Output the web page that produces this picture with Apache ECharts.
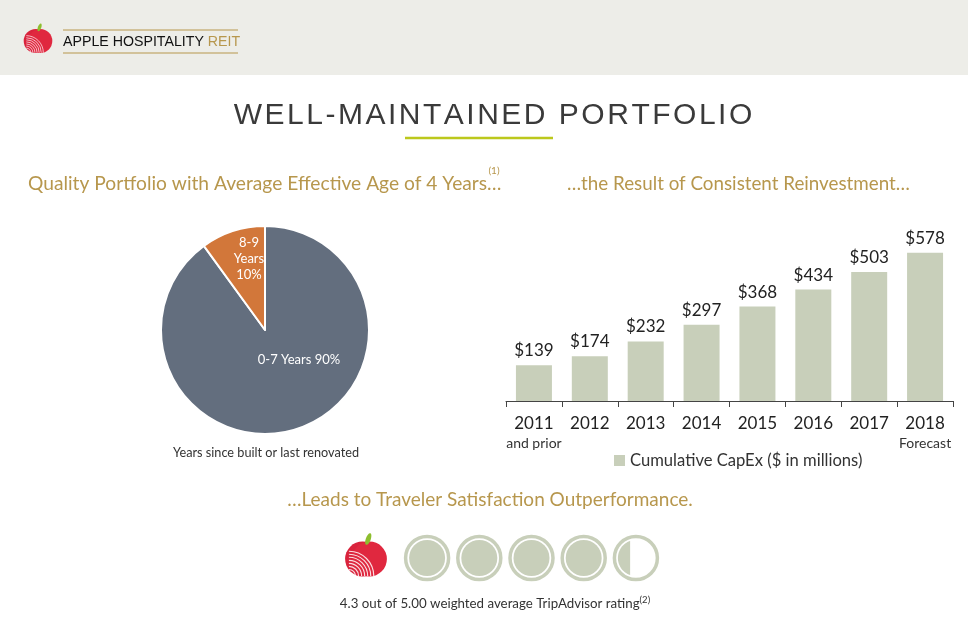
<!DOCTYPE html>
<html><head><meta charset="utf-8">
<script src="https://cdn.jsdelivr.net/npm/echarts@6/dist/echarts.min.js"></script>
<style>html,body{margin:0;padding:0;background:#fff}#c{width:968px;height:623px}</style>
</head><body><div id="c"></div>
<script>
// ---- data ----
const years = ['2011', '2012', '2013', '2014', '2015', '2016', '2017', '2018'];
const yearNotes = ['and prior', '', '', '', '', '', '', 'Forecast'];
const capex = [139, 174, 232, 297, 368, 434, 503, 578];
const pieNames = ['0-7 Years', '8-9\nYears'];
const pieValues = [90, 10];
const rating = 4.3;
const ratingMax = 5;

const GOLD = '#B7974D';
const BAR = '#C8CFBA';
const FONT = 'Lato, "Open Sans", sans-serif';

const chart = echarts.init(document.getElementById('c'), null, {renderer: 'canvas'});

const ratingData = [];
for (let i = 0; i < ratingMax; i++) {
  ratingData.push([i + 0.5, 0.5, Math.max(0, Math.min(1, rating - i))]);
}

function segWidth(f) {
  let lo = 0, hi = 1;
  for (let k = 0; k < 40; k++) {
    const h = (lo + hi) / 2;
    const t = Math.acos(1 - 2 * h);
    const a = (t - Math.sin(t) * Math.cos(t)) / Math.PI;
    if (a < f) lo = h; else hi = h;
  }
  return (lo + hi) / 2;
}

function apple(cx, cy, r) {
  const els = [];
  els.push({type: 'circle', shape: {cx: cx - r * 0.18, cy: cy, r: r * 0.92}, style: {fill: '#D9233C'}, silent: true});
  els.push({type: 'circle', shape: {cx: cx + r * 0.18, cy: cy, r: r * 0.92}, style: {fill: '#E0283F'}, silent: true});
  for (let k = 0; k < 7; k++) {
    const rr = r * (0.35 + k * 0.16);
    els.push({type: 'arc', shape: {cx: cx - r * 0.9, cy: cy + r * 0.9, r: rr, startAngle: -Math.PI * 0.5, endAngle: 0},
      style: {stroke: 'rgba(255,255,255,0.85)', lineWidth: Math.max(0.8, r * 0.06), fill: null}, silent: true});
  }
  els.push({type: 'ellipse', shape: {cx: cx + r * 0.12, cy: cy - r * 1.05, rx: r * 0.13, ry: r * 0.32},
    rotation: -0.35, originX: cx + r * 0.12, originY: cy - r * 1.05, style: {fill: '#8DBE2E'}, silent: true});
  return els;
}

function txt(x, y, text, size, color, align, extra) {
  return Object.assign({type: 'text', x: x, y: y, silent: true,
    style: {text: text, font: size + 'px ' + FONT, fill: color, align: align || 'left', verticalAlign: 'middle'}}, extra || {});
}

const H = '\u200A';
const graphics = [
  {type: 'rect', shape: {x: 0, y: 0, width: 968, height: 75}, style: {fill: '#EDEDE8'}, silent: true, z: -10},
  {type: 'line', shape: {x1: 63, y1: 30, x2: 238, y2: 30}, style: {stroke: GOLD, lineWidth: 1}, silent: true},
  {type: 'line', shape: {x1: 63, y1: 53, x2: 238, y2: 53}, style: {stroke: GOLD, lineWidth: 1}, silent: true},
  {type: 'text', x: 63, y: 42, silent: true, style: {
    text: '{a|APPLE HOSPITALITY }{b|REIT}', verticalAlign: 'middle',
    rich: {a: {font: '14.2px "Liberation Sans", sans-serif', fill: '#111', fontSize: 14.2},
           b: {font: '14.2px "Liberation Sans", sans-serif', fill: GOLD, fontSize: 14.2}}}},
  {type: 'text', x: 493, y: 116, silent: true, style: {
    text: 'WELL-MAINTAINED PORTFOLIO'.split('').join(H),
    font: '30px "Liberation Sans", Arial, sans-serif', fill: '#3a3a3a', align: 'center', verticalAlign: 'middle'}},
  {type: 'line', shape: {x1: 405, y1: 138, x2: 553, y2: 138}, style: {stroke: '#BCC81C', lineWidth: 2.5}, silent: true},
  txt(28, 184, 'Quality Portfolio with Average Effective Age of 4 Years\u2026', 19.2, GOLD),
  txt(494, 171, '(1)', 10, GOLD, 'center'),
  txt(567, 184, '\u2026the Result of Consistent Reinvestment\u2026', 18.8, GOLD),
  txt(266, 453, 'Years since built or last renovated', 12.7, '#333', 'center'),
  txt(490, 500, '\u2026Leads to Traveler Satisfaction Outperformance.', 19, GOLD, 'center'),
  {type: 'text', x: 495, y: 604, silent: true, style: {
    text: '{a|4.3 out of 5.00 weighted average TripAdvisor rating}{s|(2)}', align: 'center', verticalAlign: 'middle',
    rich: {a: {fontSize: 13.3, fontFamily: FONT, fill: '#333'}, s: {fontSize: 9.5, fontFamily: FONT, fill: '#333', verticalAlign: 'top', padding: [0, 0, 8, 0]}}}}
].concat(apple(38, 41, 13)).concat(apple(366, 559, 19));

const option = {
  backgroundColor: '#ffffff',
  textStyle: {fontFamily: FONT},
  animation: false,
  legend: {
    data: ['Cumulative CapEx ($ in millions)'],
    left: 609, top: 447,
    icon: 'rect', itemWidth: 11, itemHeight: 11, itemGap: 6,
    textStyle: {fontSize: 16.6, color: '#333', fontFamily: FONT}
  },
  grid: [
    {left: 506, right: 15, top: 247, bottom: 623 - 401},
    {left: 401, width: 261, top: 535, height: 46}
  ],
  xAxis: [
    {type: 'category', gridIndex: 0, data: years,
     axisLine: {lineStyle: {color: '#444', width: 1}},
     axisTick: {show: true, length: 6, lineStyle: {color: '#444'}},
     axisLabel: {
       margin: 12, interval: 0, color: '#222',
       formatter: function (v, i) { return yearNotes[i] ? '{y|' + v + '}\n{s|' + yearNotes[i] + '}' : '{y|' + v + '}'; },
       rich: {y: {fontSize: 17, lineHeight: 22, color: '#222', fontFamily: FONT}, s: {fontSize: 14, lineHeight: 16, color: '#333', fontFamily: FONT}}
     }},
    {type: 'value', gridIndex: 1, min: 0, max: ratingMax, show: false}
  ],
  yAxis: [
    {type: 'value', gridIndex: 0, min: 0, max: 600, show: false},
    {type: 'value', gridIndex: 1, min: 0, max: 1, show: false}
  ],
  series: [
    {type: 'pie', center: [265, 330], radius: 104, startAngle: 90, clockwise: true,
     itemStyle: {borderColor: '#fff', borderWidth: 2},
     label: {show: true, position: 'inside', color: '#fff', fontSize: 13, lineHeight: 16, fontFamily: FONT,
       formatter: function (p) { return p.dataIndex === 0 ? p.name + ' ' + p.value + '%' : p.name + '\n' + p.value + '%'; }},
     labelLayout: function (p) {
       const r = p.labelRect;
       const cx = r.x + r.width / 2, cy = r.y + r.height / 2;
       return p.dataIndex === 0 ? {x: cx + 17, y: cy - 22, align: 'center', verticalAlign: 'middle'}
                                : {x: cx + 1, y: cy - 19, align: 'center', verticalAlign: 'middle'};
     },
     data: pieNames.map((n, i) => ({name: n, value: pieValues[i], itemStyle: {color: i === 0 ? '#636E7E' : '#D2773A'}}))
    },
    {type: 'bar', name: 'Cumulative CapEx ($ in millions)', xAxisIndex: 0, yAxisIndex: 0,
     data: capex, barWidth: 36, itemStyle: {color: BAR},
     label: {show: true, position: 'top', distance: 6, fontSize: 17, color: '#222', fontFamily: FONT, formatter: '${c}'}},
    {type: 'custom', xAxisIndex: 1, yAxisIndex: 1, data: ratingData, silent: true,
     renderItem: function (params, api) {
       const c = api.coord([api.value(0), api.value(1)]);
       const f = api.value(2);
       const R = 18;
       const children = [
         {type: 'circle', shape: {cx: c[0], cy: c[1], r: 21.5}, style: {fill: '#fff', stroke: BAR, lineWidth: 3.5}}
       ];
       if (f >= 1) {
         children.push({type: 'circle', shape: {cx: c[0], cy: c[1], r: R}, style: {fill: BAR}});
       } else if (f > 0) {
         const w = segWidth(f) * 2 * R;
         const xEnd = c[0] - R + w;
         const pts = [];
         const t = Math.acos((xEnd - c[0]) / R);
         const n = 40;
         for (let k = 0; k <= n; k++) {
           const a = t + (2 * Math.PI - 2 * t) * k / n;
           pts.push([c[0] + R * Math.cos(a), c[1] - R * Math.sin(a)]);
         }
         children.push({type: 'polygon', shape: {points: pts}, style: {fill: BAR}});
       }
       return {type: 'group', children: children};
     }}
  ],
  graphic: graphics
};
chart.setOption(option);
</script>
</body></html>
